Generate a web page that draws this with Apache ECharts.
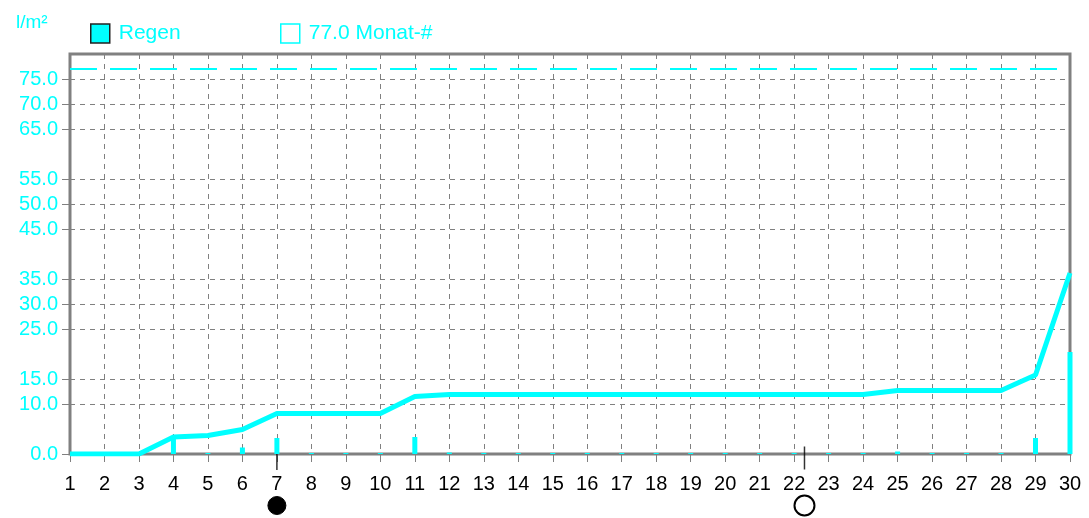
<!DOCTYPE html>
<html>
<head>
<meta charset="utf-8">
<script src="https://cdn.jsdelivr.net/npm/echarts@6/dist/echarts.min.js"></script>
<style>
html, body { margin: 0; padding: 0; background: #fff; }
#chart { width: 1089px; height: 518px; }
</style>
</head>
<body>
<div id="chart"></div>
<script>
// Tage des Monats
const days = [1, 2, 3, 4, 5, 6, 7, 8, 9, 10, 11, 12, 13, 14, 15, 16, 17, 18, 19, 20, 21, 22, 23, 24, 25, 26, 27, 28, 29, 30];
// Regen kumuliert (l/m²)
const rainSum = [0, 0, 0, 3.4, 3.7, 4.9, 8.1, 8.1, 8.1, 8.1, 11.5, 11.9, 11.9, 11.9, 11.9, 11.9, 11.9, 11.9, 11.9, 11.9, 11.9, 11.9, 11.9, 11.9, 12.7, 12.7, 12.7, 12.7, 15.8, 36.2];
// Tagesregen (kleine Balken an der Achse)
const rainDay = [null, null, null, 3.3, 0.2, 1.3, 3.2, 0, 0, 0, 3.4, 0.3, 0, 0, 0, 0, 0, 0, 0, 0, 0, 0, 0, 0, 0.5, 0, 0, 0, 3.2, 20.4];
// Monatswert
const monthTotal = 77.0;
// beschriftete y-Werte
const yLabels = [0, 10, 15, 25, 30, 35, 45, 50, 55, 65, 70, 75];
// Mondphasen: Tag, gefüllt?
const moonDays = [7, 22.3];
const moonFilled = [true, false];
const moonTickY = [-1.6, -0.8];
const moonTickLen = [16, 23];

const cyan = '#00ffff';
const grey = '#808080';
const font = 'Liberation Sans';

let myChart = echarts.init(document.getElementById('chart'));

let option = {
    animation: false,
    backgroundColor: '#fff',
    textStyle: { fontFamily: font },
    title: {
        text: 'l/m²',
        left: 11,
        top: 8,
        textStyle: { color: cyan, fontSize: 19, fontWeight: 'normal', fontFamily: font }
    },
    legend: [{
        left: 85,
        top: 18,
        itemWidth: 19,
        itemHeight: 19,
        textStyle: { color: cyan, fontSize: 21, fontFamily: font, padding: [0, 0, 0, 4] },
        data: [{ name: 'Regen', icon: 'rect', itemStyle: { color: cyan, borderColor: '#222', borderWidth: 1.5 } }]
    }, {
        left: 275,
        top: 18,
        itemWidth: 19,
        itemHeight: 19,
        textStyle: { color: cyan, fontSize: 21, fontFamily: font, padding: [0, 0, 0, 4] },
        data: [{ name: '77.0 Monat-#', icon: 'rect', itemStyle: { color: 'rgba(0,0,0,0)', borderColor: cyan, borderWidth: 1.5 } }]
    }],
    grid: {
        left: 70,
        right: 19,
        top: 54,
        bottom: 64,
        show: true,
        borderColor: grey,
        borderWidth: 3
    },
    xAxis: {
        type: 'value',
        min: 1,
        max: 30,
        interval: 1,
        axisLine: { show: false },
        axisTick: { show: true, length: 8, lineStyle: { color: grey, width: 1 } },
        axisLabel: { color: '#000', fontSize: 20, fontFamily: font, margin: 20 },
        splitLine: { show: true, lineStyle: { color: grey, type: [5, 5], width: 1 } }
    },
    yAxis: {
        type: 'value',
        min: 0,
        max: 80,
        interval: 5,
        axisLine: { show: false },
        axisTick: { show: true, length: 8, customValues: yLabels, lineStyle: { color: grey, width: 1 } },
        axisLabel: {
            color: cyan, fontSize: 20, fontFamily: font, margin: 12,
            customValues: yLabels,
            formatter: function (v) { return v.toFixed(1); }
        },
        splitLine: { show: true, lineStyle: { color: grey, type: [5, 5], width: 1 } }
    },
    series: [
        {
            name: 'Tagesregen',
            type: 'bar',
            barWidth: 5,
            barMinHeight: 1,
            itemStyle: { color: cyan },
            data: days.map(function (d, i) { return [d, rainDay[i]]; })
        },
        {
            name: 'Regen',
            type: 'line',
            symbol: 'none',
            lineStyle: { color: cyan, width: 5 },
            itemStyle: { color: cyan },
            data: days.map(function (d, i) { return [d, rainSum[i]]; })
        },
        {
            name: '77.0 Monat-#',
            type: 'line',
            symbol: 'none',
            lineStyle: { color: cyan, width: 2, type: [27, 13] },
            itemStyle: { color: cyan },
            data: [[days[0], monthTotal], [days[days.length - 1], monthTotal]]
        },
        {
            name: 'Mondstrich',
            type: 'scatter',
            clip: false,
            symbol: 'rect',
            itemStyle: { color: '#000' },
            data: moonDays.map(function (d, i) {
                return { value: [d, moonTickY[i]], symbolSize: [1.5, moonTickLen[i]] };
            })
        },
        {
            name: 'Mond',
            type: 'scatter',
            clip: false,
            symbol: 'circle',
            data: moonDays.map(function (d, i) {
                return {
                    value: [d, -10.3],
                    symbolSize: moonFilled[i] ? 18 : 20,
                    itemStyle: moonFilled[i]
                        ? { color: '#000', borderColor: '#000', borderWidth: 1, opacity: 1 }
                        : { color: '#fff', borderColor: '#000', borderWidth: 2, opacity: 1 }
                };
            })
        }
    ]
};

myChart.setOption(option);
</script>
</body>
</html>
